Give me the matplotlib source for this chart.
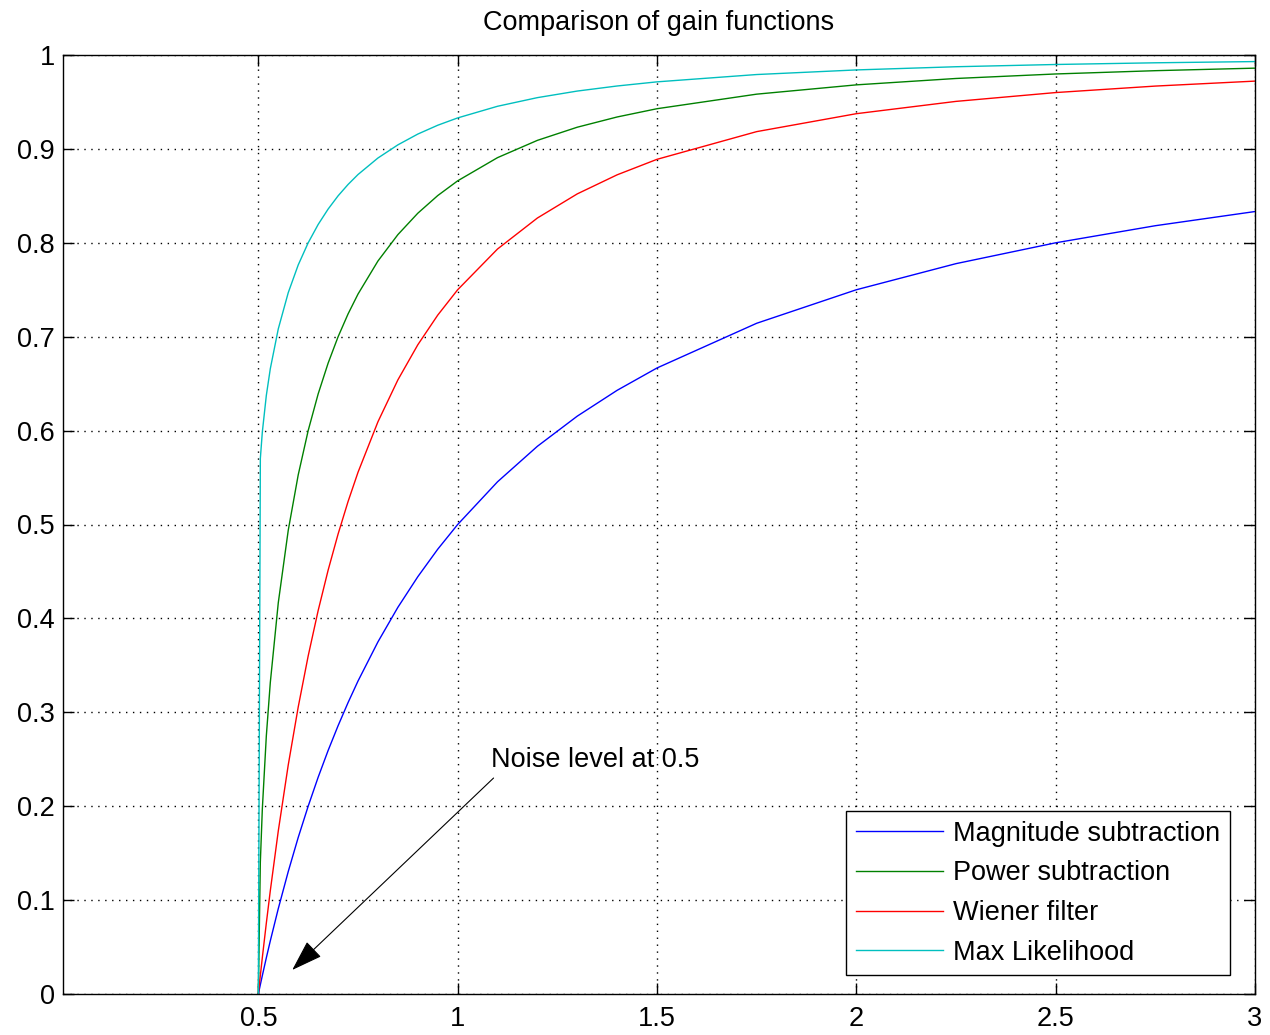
import matplotlib
matplotlib.use("Agg")
import matplotlib.pyplot as plt

plt.rcParams['font.family'] = ['Liberation Sans', 'DejaVu Sans']

# x values (signal magnitude)
x = [0.5, 0.505, 0.51, 0.52, 0.53, 0.55, 0.575, 0.6, 0.625, 0.65, 0.675, 0.7,
     0.725, 0.75, 0.8, 0.85, 0.9, 0.95, 1.0, 1.1, 1.2, 1.3, 1.4, 1.5, 1.75,
     2.0, 2.25, 2.5, 2.75, 3.0]

magnitude = [0.0, 0.0099, 0.0196, 0.0385, 0.0566, 0.0909, 0.1304, 0.1667, 0.2000,
             0.2308, 0.2593, 0.2857, 0.3103, 0.3333, 0.3750, 0.4118, 0.4444, 0.4737,
             0.5000, 0.5455, 0.5833, 0.6154, 0.6429, 0.6667, 0.7143, 0.7500, 0.7778,
             0.8000, 0.8182, 0.8333]

power = [0.0, 0.1404, 0.1970, 0.2747, 0.3317, 0.4166, 0.4938, 0.5528, 0.6000,
         0.6390, 0.6718, 0.6999, 0.7242, 0.7454, 0.7806, 0.8087, 0.8315, 0.8503,
         0.8660, 0.8907, 0.9091, 0.9231, 0.9340, 0.9428, 0.9583, 0.9682, 0.9750,
         0.9798, 0.9833, 0.9860]

wiener = [0.0, 0.0197, 0.0388, 0.0754, 0.1100, 0.1736, 0.2439, 0.3056, 0.3600,
          0.4083, 0.4513, 0.4898, 0.5244, 0.5556, 0.6094, 0.6540, 0.6914, 0.7230,
          0.7500, 0.7934, 0.8264, 0.8521, 0.8724, 0.8889, 0.9184, 0.9375, 0.9506,
          0.9600, 0.9669, 0.9722]

max_likelihood = [0.0, 0.5702, 0.5985, 0.6374, 0.6659, 0.7083, 0.7469, 0.7764, 0.8000,
                  0.8195, 0.8359, 0.8500, 0.8621, 0.8727, 0.8903, 0.9043, 0.9158, 0.9252,
                  0.9330, 0.9454, 0.9546, 0.9616, 0.9670, 0.9714, 0.9792, 0.9841, 0.9875,
                  0.9899, 0.9917, 0.9930]

labels = ['Magnitude subtraction', 'Power subtraction', 'Wiener filter', 'Max Likelihood']
colors = ['#0000FF', '#008000', '#FF0000', '#00BFBF']

xticks = [0.5, 1, 1.5, 2, 2.5, 3]
xticklabels = ['0.5', '1', '1.5', '2', '2.5', '3']
yticks = [0, 0.1, 0.2, 0.3, 0.4, 0.5, 0.6, 0.7, 0.8, 0.9, 1]
yticklabels = ['0', '0.1', '0.2', '0.3', '0.4', '0.5', '0.6', '0.7', '0.8', '0.9', '1']

FS = 19.5

fig = plt.figure(figsize=(12.7, 10.35), dpi=100)
ax = fig.add_axes([63/1270, 1-994/1035, (1255-63)/1270, (994-55)/1035])

for ys, lab, c in zip([magnitude, power, wiener, max_likelihood], labels, colors):
    ax.plot(x, ys, color=c, lw=1.0, label=lab)

ax.set_xlim(0.01, 3)
ax.set_ylim(0, 1)
ax.set_xticks(xticks)
ax.set_xticklabels(xticklabels)
ax.set_yticks(yticks)
ax.set_yticklabels(yticklabels)
ax.tick_params(direction='in', length=8, width=1, top=True, right=True,
               labelsize=FS, colors='black')
ax.tick_params(axis='x', pad=9)
ax.tick_params(axis='y', pad=6)
ax.grid(True, linestyle=(0, (1, 4)), color='black', linewidth=1.0)
for s in ax.spines.values():
    s.set_linewidth(1.0)
    s.set_color('black')

ax.set_title('Comparison of gain functions', fontsize=FS, pad=18)

ax.text(1.083, 0.249, 'Noise level at 0.5', fontsize=FS, ha='left', va='center')
ax.annotate('', xy=(0.585, 0.0256), xytext=(1.09, 0.230),
            arrowprops=dict(arrowstyle='-|>,head_length=0.9,head_width=0.3',
                            mutation_scale=22, lw=0.8, color='black',
                            shrinkA=0, shrinkB=0))

leg = ax.legend(loc='lower right', bbox_to_anchor=((1230-63)/1192, (994-975)/939),
                borderaxespad=0, fontsize=FS, handlelength=3.2, handletextpad=0.4,
                labelspacing=0.5, borderpad=0.35, fancybox=False, framealpha=1,
                edgecolor='black')
leg.get_frame().set_linewidth(1.0)

fig.savefig('out.png', dpi=100)
